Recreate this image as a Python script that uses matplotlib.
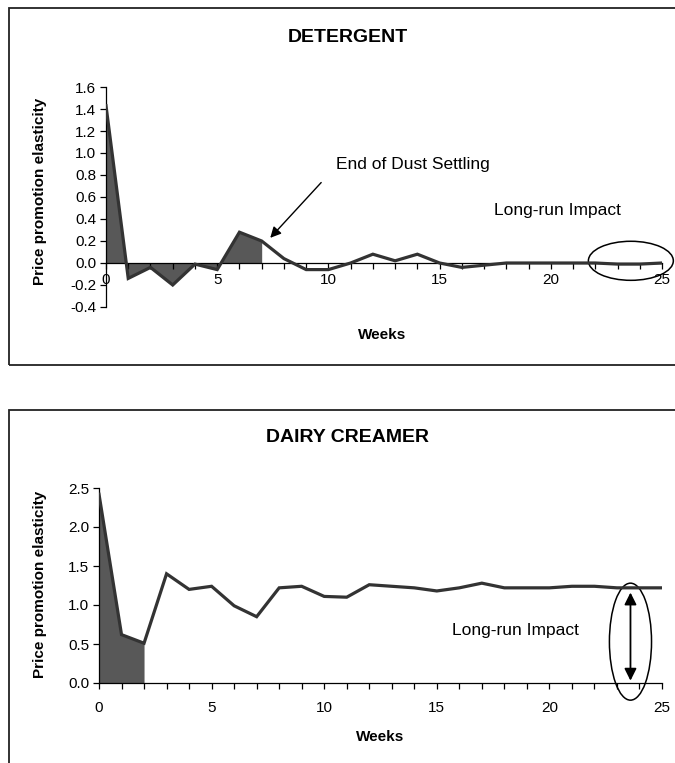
import numpy as np
import matplotlib
matplotlib.use("Agg")
import matplotlib.pyplot as plt
from matplotlib.patches import Ellipse, Rectangle

plt.rcParams["font.family"] = ["Liberation Sans", "DejaVu Sans"]

# -----------------------------
# DATA
# -----------------------------
weeks = np.arange(26)

detergent = [1.43, -0.14, -0.04, -0.20, -0.01, -0.06, 0.28, 0.20, 0.04, -0.06,
             -0.06, 0.00, 0.08, 0.02, 0.08, 0.00, -0.04, -0.02, 0.00, 0.00,
             0.00, 0.00, 0.00, -0.01, -0.01, 0.00]

dairy = [2.42, 0.62, 0.51, 1.40, 1.20, 1.24, 0.99, 0.85, 1.22, 1.24,
         1.11, 1.10, 1.26, 1.24, 1.22, 1.18, 1.22, 1.28, 1.22, 1.22,
         1.22, 1.24, 1.24, 1.22, 1.22, 1.22]

det_shade_end = 7     # dust settling ends at week 7
dairy_shade_end = 2

det_yticks = [-0.4, -0.2, 0.0, 0.2, 0.4, 0.6, 0.8, 1.0, 1.2, 1.4, 1.6]
dairy_yticks = [0.0, 0.5, 1.0, 1.5, 2.0, 2.5]
xticks = [0, 5, 10, 15, 20, 25]

W, H = 675, 763
LINE = "#333333"
FILL = "#585858"
TICK_FS = 11
NOTE_FS = 12.5
TITLE_FS = 14
LABEL_FS = 11


def px_axes(left, right, top, bottom):
    # pixel box -> figure fraction
    return [left / W, 1 - bottom / H, (right - left) / W, (bottom - top) / H]


def fx(x):
    return x / W


def fy(y):
    return 1 - y / H


fig = plt.figure(figsize=(6.75, 7.63), dpi=100)

# outer frames (they run off the right edge in the original)
for top, bot in [(8, 365), (410, 800)]:
    fig.patches.append(Rectangle((fx(9), fy(bot)), fx(700) - fx(9), fy(top) - fy(bot),
                                 transform=fig.transFigure, fill=False,
                                 edgecolor="#222222", linewidth=1.3))


def style_axes(ax, yticks, fmt):
    for s in ["top", "right"]:
        ax.spines[s].set_visible(False)
    ax.spines["left"].set_linewidth(0.9)
    ax.spines["bottom"].set_linewidth(0.9)
    ax.set_xlim(0, 25)
    ax.set_xticks(range(26), minor=True)
    ax.set_xticks(xticks)
    ax.set_yticks(yticks)
    ax.set_yticklabels([fmt.format(v) for v in yticks])
    ax.tick_params(axis="x", which="both", direction="out", length=4, width=0.9, labelsize=TICK_FS)
    ax.tick_params(axis="y", direction="out", length=4, width=0.9, labelsize=TICK_FS, pad=3)
    ax.patch.set_alpha(0)


# -----------------------------
# DETERGENT
# -----------------------------
ax1 = fig.add_axes(px_axes(106, 662, 87, 307))
ax1.set_ylim(-0.4, 1.6)
style_axes(ax1, det_yticks, "{:.1f}")
ax1.spines["bottom"].set_position(("data", 0))
ax1.tick_params(axis="x", which="both", pad=3)

xs = weeks[:det_shade_end + 1]
ax1.fill_between(xs, 0, detergent[:det_shade_end + 1], color=FILL, linewidth=0)
ax1.plot(weeks, detergent, color=LINE, linewidth=2.3, solid_joinstyle="miter", zorder=3)

ax1.annotate("", xy=(7.3, 0.21), xytext=(9.76, 0.75),
             arrowprops=dict(arrowstyle="-|>", color="black", lw=1.0,
                             mutation_scale=16))
fig.text(fx(336), fy(165), "End of Dust Settling", fontsize=NOTE_FS, ha="left", va="center")
fig.text(fx(494), fy(210), "Long-run Impact", fontsize=NOTE_FS, ha="left", va="center")
ax1.add_patch(Ellipse((23.6, 0.02), 3.82, 0.355, fill=False, edgecolor="black",
                      linewidth=1.1, clip_on=False))

fig.text(fx(348), fy(37), "DETERGENT", fontsize=TITLE_FS, fontweight="bold", ha="center", va="center")
fig.text(fx(382), fy(335), "Weeks", fontsize=LABEL_FS, fontweight="bold", ha="center", va="center")
fig.text(fx(40), fy(191), "Price promotion elasticity", fontsize=LABEL_FS, fontweight="bold",
         rotation=90, ha="center", va="center")

# -----------------------------
# DAIRY CREAMER
# -----------------------------
ax2 = fig.add_axes(px_axes(99, 662, 488, 683))
ax2.set_ylim(0, 2.5)
style_axes(ax2, dairy_yticks, "{:.1f}")
ax2.tick_params(axis="x", which="both", pad=9)

xs = weeks[:dairy_shade_end + 1]
ax2.fill_between(xs, 0, dairy[:dairy_shade_end + 1], color=FILL, linewidth=0)
ax2.plot(weeks, dairy, color=LINE, linewidth=2.3, solid_joinstyle="miter", zorder=3)

ax2.add_patch(Ellipse((23.6, 0.53), 1.87, 1.5, fill=False, edgecolor="black",
                      linewidth=1.1, clip_on=False))
ax2.annotate("", xy=(23.6, 1.16), xytext=(23.6, 0.03),
             arrowprops=dict(arrowstyle="<|-|>", color="black", lw=1.3,
                             mutation_scale=18, shrinkA=0, shrinkB=0))
fig.text(fx(515), fy(631), "Long-run Impact", fontsize=NOTE_FS, ha="center", va="center")

fig.text(fx(348), fy(438), "DAIRY CREAMER", fontsize=TITLE_FS, fontweight="bold", ha="center", va="center")
fig.text(fx(380), fy(737), "Weeks", fontsize=LABEL_FS, fontweight="bold", ha="center", va="center")
fig.text(fx(40), fy(584), "Price promotion elasticity", fontsize=LABEL_FS, fontweight="bold",
         rotation=90, ha="center", va="center")

fig.savefig("out.png", dpi=100)
